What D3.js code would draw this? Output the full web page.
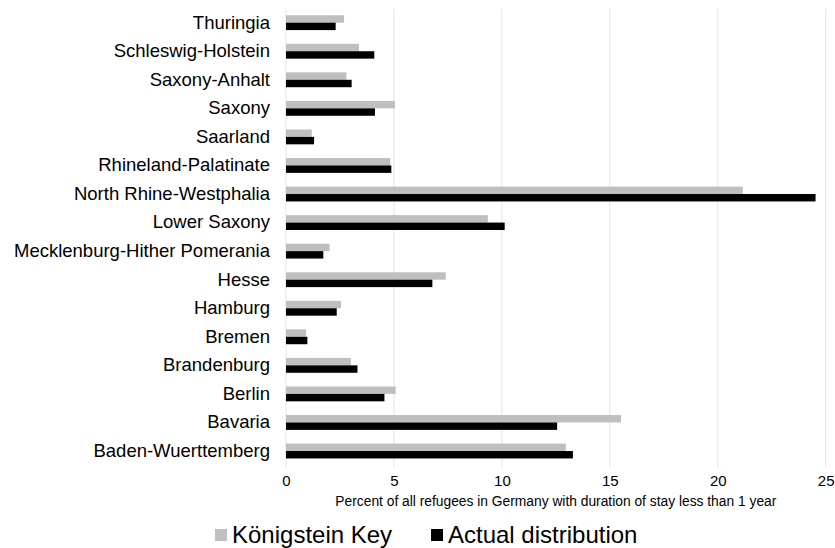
<!DOCTYPE html>
<html>
<head>
<meta charset="utf-8">
<script src="https://cdn.jsdelivr.net/npm/d3@7"></script>
<style>
  html, body { margin: 0; padding: 0; background: #fff; }
  svg { display: block; font-family: "Liberation Sans", Arial, Helvetica, sans-serif; }
</style>
</head>
<body>
<svg id="chart" width="835" height="548"></svg>
<script>
const states = ["Thuringia", "Schleswig-Holstein", "Saxony-Anhalt", "Saxony", "Saarland",
  "Rhineland-Palatinate", "North Rhine-Westphalia", "Lower Saxony",
  "Mecklenburg-Hither Pomerania", "Hesse", "Hamburg", "Bremen", "Brandenburg",
  "Berlin", "Bavaria", "Baden-Wuerttemberg"];
const konigsteinKey = [2.69, 3.38, 2.80, 5.05, 1.19, 4.83, 21.16, 9.35,
  2.02, 7.40, 2.55, 0.93, 3.01, 5.08, 15.52, 12.96];
const actualDistribution = [2.30, 4.09, 3.04, 4.12, 1.30, 4.88, 24.53, 10.13,
  1.73, 6.78, 2.35, 0.99, 3.31, 4.56, 12.56, 13.29];
const xTicks = [0, 5, 10, 15, 20, 25];
const seriesNames = ["Königstein Key", "Actual distribution"];
const seriesColors = ["#bfbfbf", "#000000"];

const svg = d3.select("#chart");
const plotLeft = 286, plotRight = 825.7, plotTop = 8.4, plotBottom = 465.3;

const x = d3.scaleLinear().domain([0, 25]).range([plotLeft, plotRight]);
const y = d3.scaleBand().domain(states).range([plotTop, plotBottom]).paddingInner(0.48).paddingOuter(0.24);
const ySub = d3.scaleBand().domain([0, 1]).range([0, y.bandwidth()]);

// gridlines
svg.append("g").selectAll("line").data(xTicks).join("line")
  .attr("x1", d => x(d)).attr("x2", d => x(d))
  .attr("y1", plotTop).attr("y2", plotBottom + 2)
  .attr("stroke", "#e3e3e3").attr("stroke-width", 1);

// bars
const series = [konigsteinKey, actualDistribution];
series.forEach((vals, si) => {
  svg.append("g").selectAll("rect").data(states).join("rect")
    .attr("x", x(0))
    .attr("y", (d) => y(d) + ySub(si))
    .attr("width", (d, i) => x(vals[i]) - x(0))
    .attr("height", ySub.bandwidth())
    .attr("fill", seriesColors[si]);
});

// y axis labels
const yAxis = d3.axisLeft(y).tickSize(0).tickPadding(16);
const yg = svg.append("g").attr("transform", `translate(${plotLeft},0)`).call(yAxis);
yg.select(".domain").remove();
yg.selectAll("text").attr("font-size", 18.5).attr("fill", "#000")
  .attr("font-family", "Liberation Sans, Arial, sans-serif");

// x axis
const xAxis = d3.axisBottom(x).tickValues(xTicks).tickSize(0).tickPadding(8);
const xg = svg.append("g").attr("transform", `translate(0,${plotBottom + 2})`).call(xAxis);
xg.select(".domain").remove();
xg.selectAll("text").attr("font-size", 15).attr("fill", "#000")
  .attr("font-family", "Liberation Sans, Arial, sans-serif");

// axis title
svg.append("text")
  .attr("x", (plotLeft + plotRight) / 2).attr("y", 506)
  .attr("text-anchor", "middle").attr("font-size", 13.8).attr("fill", "#000")
  .text("Percent of all refugees in Germany with duration of stay less than 1 year");

// legend
const legendX = [215, 431];
const lg = svg.append("g");
seriesNames.forEach((name, i) => {
  lg.append("rect").attr("x", legendX[i]).attr("y", 529).attr("width", 12).attr("height", 12)
    .attr("fill", seriesColors[i]);
  lg.append("text").attr("x", legendX[i] + 17).attr("y", 543)
    .attr("font-size", 24).attr("fill", "#000").text(name);
});
</script>
</body>
</html>
